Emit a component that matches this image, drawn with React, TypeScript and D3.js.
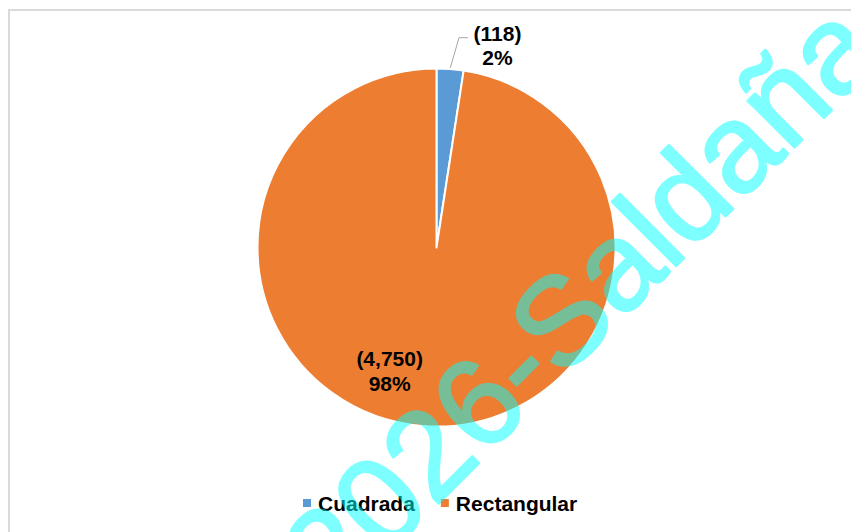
import React, { useEffect, useRef } from "react";
import * as d3 from "d3";

const categories = ["Cuadrada", "Rectangular"];
const values = [118, 4750];
const percentLabels = ["2%", "98%"];
const colors = ["#5B9BD5", "#ED7D31"];
const watermark = "2026-Saldaña";

const W = 851;
const H = 532;

export default function App() {
  const ref = useRef<SVGSVGElement | null>(null);

  useEffect(() => {
    const svg = d3.select(ref.current);
    svg.selectAll("*").remove();

    // chart border
    svg
      .append("rect")
      .attr("x", 9)
      .attr("y", 10)
      .attr("width", W + 50)
      .attr("height", H + 50)
      .attr("fill", "#ffffff")
      .attr("stroke", "#d9d9d9")
      .attr("stroke-width", 2);

    const cx = 436.5;
    const cy = 247.5;
    const r = 179;

    const pie = d3
      .pie<number>()
      .sort(null)
      .value((d) => d)
      .startAngle(0)
      .endAngle(2 * Math.PI);
    const arcs = pie(values);
    const arc = d3.arc<d3.PieArcDatum<number>>().innerRadius(0).outerRadius(r);

    const g = svg.append("g").attr("transform", `translate(${cx},${cy})`);
    g.selectAll("path.slice")
      .data(arcs)
      .join("path")
      .attr("class", "slice")
      .attr("d", arc)
      .attr("fill", (_d, i) => colors[i])
      .attr("stroke", "#ffffff")
      .attr("stroke-width", 2)
      .attr("stroke-linejoin", "round");

    const fmt = d3.format(",");
    const polar = (angle: number, radius: number) => [
      Math.sin(angle) * radius,
      -Math.cos(angle) * radius,
    ];

    // small slice label (outside with leader line)
    const a0 = arcs[0];
    const mid0 = (a0.startAngle + a0.endAngle) / 2;
    const [lx0, ly0] = polar(mid0, r + 1);
    const [ex, ey] = polar(0.107, r + 32);
    g.append("polyline")
      .attr("points", `${lx0},${ly0} ${ex},${ey} ${ex + 9},${ey}`)
      .attr("fill", "none")
      .attr("stroke", "#a6a6a6")
      .attr("stroke-width", 1);

    const tx0 = ex + 38.5;
    const lab0 = g
      .append("text")
      .attr("text-anchor", "middle")
      .attr("font-family", "'Liberation Sans', Arial, sans-serif")
      .attr("font-weight", "bold")
      .attr("font-size", 21)
      .attr("fill", "#000000");
    lab0.append("tspan").attr("x", tx0).attr("y", ey + 3).text(`(${fmt(values[0])})`);
    lab0.append("tspan").attr("x", tx0).attr("y", ey + 27).text(percentLabels[0]);

    // big slice label inside
    const [tx1, ty1] = polar(Math.PI + 0.36, 133);
    const lab1 = g
      .append("text")
      .attr("text-anchor", "middle")
      .attr("font-family", "'Liberation Sans', Arial, sans-serif")
      .attr("font-weight", "bold")
      .attr("font-size", 21)
      .attr("fill", "#000000");
    lab1.append("tspan").attr("x", tx1).attr("y", ty1 - 6).text(`(${fmt(values[1])})`);
    lab1.append("tspan").attr("x", tx1).attr("y", ty1 + 19).text(percentLabels[1]);

    // legend
    const legend = svg.append("g");
    const items = legend
      .selectAll("g.item")
      .data(categories)
      .join("g")
      .attr("class", "item");
    items
      .append("rect")
      .attr("width", 8)
      .attr("height", 8)
      .attr("y", -12)
      .attr("fill", (_d, i) => colors[i]);
    items
      .append("text")
      .attr("x", 15)
      .attr("font-family", "'Liberation Sans', Arial, sans-serif")
      .attr("font-weight", "bold")
      .attr("font-size", 21)
      .attr("fill", "#000000")
      .text((d) => d);
    let x = 303;
    items.each(function () {
      const node = this as SVGGElement;
      d3.select(node).attr("transform", `translate(${x},511)`);
      const t = node.querySelector("text") as SVGTextElement;
      x += 15 + t.getComputedTextLength() + 26;
    });

    // watermark
    svg
      .append("g")
      .attr("opacity", 0.5)
      .append("text")
      .attr("transform", "translate(336,606) rotate(-45)")
      .attr("font-family", "'Liberation Sans', Arial, sans-serif")
      .attr("font-size", 125)
      .attr("fill", "#00ffff")
      .attr("stroke", "#00ffff")
      .attr("stroke-width", 2.5)
      .attr("stroke-linejoin", "round")
      .text(watermark);
  }, []);

  return (
    <svg
      ref={ref}
      width={W}
      height={H}
      style={{ position: "absolute", left: 0, top: 0, background: "#fff" }}
    />
  );
}
